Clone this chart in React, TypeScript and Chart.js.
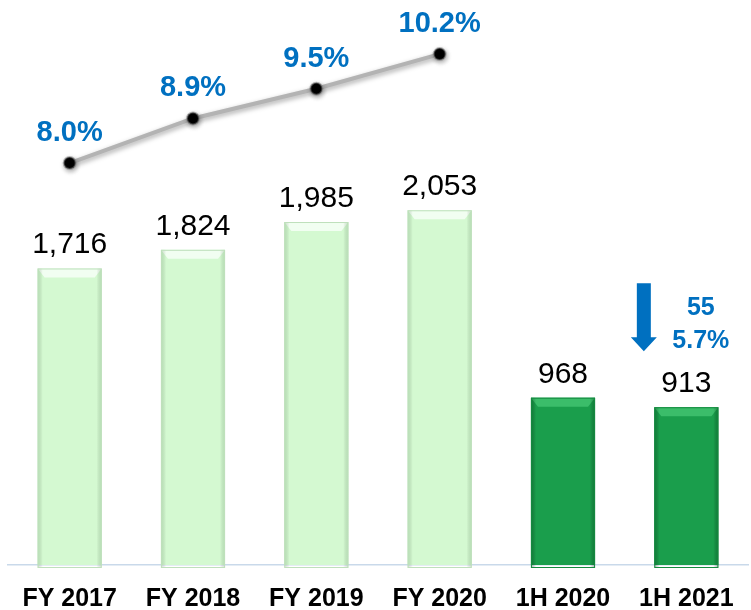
import React, { useEffect, useRef } from "react";
import { Chart, registerables } from "chart.js";

Chart.register(...registerables);

const categories = ["FY 2017", "FY 2018", "FY 2019", "FY 2020", "1H 2020", "1H 2021"];
const revenue = [1716, 1824, 1985, 2053, 968, 913];
const marginPct: (number | null)[] = [8.0, 8.9, 9.5, 10.2, null, null];
const changeLabels = ["55", "5.7%"];

const LIGHT = "#d4f9d1";
const DARK = "#1a9e4c";
const BLUE = "#0070c0";

const isHalf = (i: number) => categories[i].startsWith("1H");

const fxPlugin = {
  id: "fx",
  beforeDatasetDraw(chart: any, args: any) {
    if (args.meta.type === "line") {
      const ctx = chart.ctx;
      ctx.save();
      ctx.shadowColor = "rgba(0,0,0,0.35)";
      ctx.shadowBlur = 5;
      ctx.shadowOffsetX = 1;
      ctx.shadowOffsetY = 2;
    }
  },
  afterDatasetDraw(chart: any, args: any) {
    const ctx = chart.ctx;
    if (args.meta.type === "line") {
      ctx.restore();
      return;
    }
    if (args.meta.type !== "bar") return;
    args.meta.data.forEach((bar: any, i: number) => {
      const half = isHalf(i);
      const l = bar.x - bar.width / 2;
      const r = bar.x + bar.width / 2;
      const t = bar.y;
      const b = bar.base;
      ctx.save();
      ctx.beginPath();
      ctx.moveTo(l, t);
      ctx.lineTo(r, t);
      ctx.lineTo(r - 7, t + 9);
      ctx.lineTo(l + 7, t + 9);
      ctx.closePath();
      ctx.fillStyle = half ? "#3bbd6a" : "#f1fef1";
      ctx.fill();
      const g = ctx.createLinearGradient(l, 0, r, 0);
      const edge = half ? "rgba(0,60,20,0.35)" : "rgba(80,140,80,0.22)";
      g.addColorStop(0, edge);
      g.addColorStop(0.08, "rgba(0,0,0,0)");
      g.addColorStop(0.92, "rgba(0,0,0,0)");
      g.addColorStop(1, edge);
      ctx.fillStyle = g;
      ctx.fillRect(l, t, r - l, b - t + 3);
      ctx.strokeStyle = half ? "#158a40" : "#bfe0bc";
      ctx.lineWidth = 1;
      ctx.strokeRect(l + 0.5, t + 0.5, r - l - 1, b - t + 2);
      ctx.restore();
    });
  },
  afterDraw(chart: any) {
    const ctx = chart.ctx;
    const barMeta = chart.getDatasetMeta(0);
    const lineMeta = chart.getDatasetMeta(1);
    ctx.save();
    ctx.textAlign = "center";
    ctx.textBaseline = "alphabetic";
    ctx.fillStyle = "#000";
    ctx.font = '30px "Liberation Sans", Arial, sans-serif';
    barMeta.data.forEach((bar: any, i: number) => {
      ctx.fillText(revenue[i].toLocaleString("en-US"), bar.x, bar.y - 15);
    });
    ctx.fillStyle = BLUE;
    ctx.font = 'bold 29px "Liberation Sans", Arial, sans-serif';
    lineMeta.data.forEach((pt: any, i: number) => {
      const v = marginPct[i];
      if (v == null) return;
      ctx.fillText(v.toFixed(1) + "%", pt.x, pt.y - 22);
    });
    const last = barMeta.data[barMeta.data.length - 1];
    const ax = last.x - 42.5;
    const tip = last.y - 56;
    ctx.fillStyle = BLUE;
    ctx.beginPath();
    ctx.moveTo(ax - 7, tip - 68);
    ctx.lineTo(ax + 7, tip - 68);
    ctx.lineTo(ax + 7, tip - 14);
    ctx.lineTo(ax + 13, tip - 14);
    ctx.lineTo(ax, tip);
    ctx.lineTo(ax - 13, tip - 14);
    ctx.lineTo(ax - 7, tip - 14);
    ctx.closePath();
    ctx.fill();
    ctx.font = 'bold 25px "Liberation Sans", Arial, sans-serif';
    ctx.fillText(changeLabels[0], last.x + 14.5, last.y - 92);
    ctx.fillText(changeLabels[1], last.x + 14.5, last.y - 59);
    ctx.restore();
  },
};

export default function App() {
  const ref = useRef<HTMLCanvasElement>(null);
  useEffect(() => {
    if (!ref.current) return;
    const chart = new Chart(ref.current, {
      type: "bar",
      data: {
        labels: categories,
        datasets: [
          {
            type: "bar",
            data: revenue,
            backgroundColor: revenue.map((_, i) => (isHalf(i) ? DARK : LIGHT)),
            borderWidth: 0,
            barPercentage: 0.52,
            categoryPercentage: 1,
            yAxisID: "y",
            order: 2,
          },
          {
            type: "line",
            data: marginPct,
            borderColor: "#b3b3b3",
            borderWidth: 4,
            pointBackgroundColor: "#000",
            pointBorderColor: "rgba(120,120,120,0.5)",
            pointBorderWidth: 2,
            pointRadius: 6,
            tension: 0,
            spanGaps: false,
            yAxisID: "y1",
            order: 1,
          } as any,
        ],
      },
      options: {
        responsive: false,
        animation: false,
        devicePixelRatio: 1,
        layout: { padding: { top: 10, left: 5, right: 1, bottom: 0 } },
        plugins: { legend: { display: false }, tooltip: { enabled: false } },
        scales: {
          x: {
            afterFit: (s: any) => {
              s.height = 45;
              s.paddingLeft = 0;
              s.paddingRight = 0;
            },
            grid: { display: false, drawTicks: false },
            border: { display: true, color: "#c9d9ea", width: 1.5 },
            ticks: {
              padding: 19,
              color: "#000",
              font: { family: '"Liberation Sans", Arial, sans-serif', size: 25, weight: "bold" },
            },
          },
          y: { display: false, min: 0, max: 3212 },
          y1: { display: false, min: -0.121, max: 11.091 },
        },
      },
      plugins: [fxPlugin],
    });
    return () => chart.destroy();
  }, []);
  return (
    <div style={{ position: "absolute", left: 0, top: 0, width: 751, height: 610, overflow: "hidden", background: "#fff" }}>
      <canvas ref={ref} width={756} height={610} />
    </div>
  );
}
